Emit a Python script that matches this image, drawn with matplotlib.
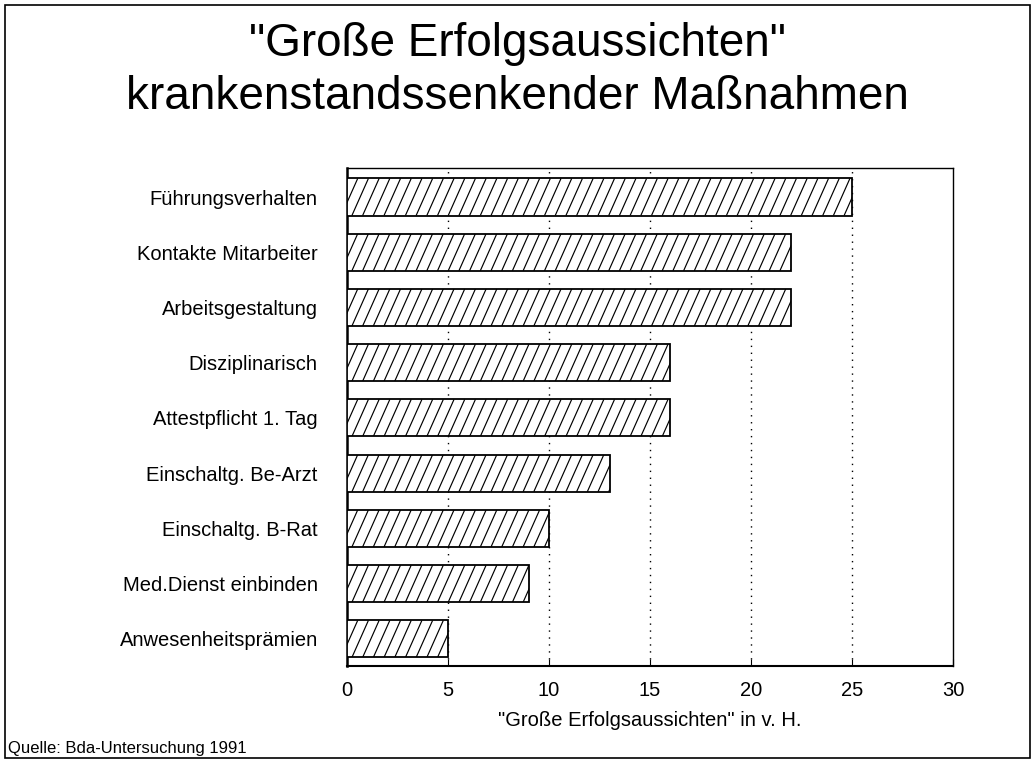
import numpy as np
import matplotlib
matplotlib.use("Agg")
import matplotlib.pyplot as plt
from matplotlib.collections import LineCollection
from matplotlib.patches import Rectangle

plt.rcParams['font.family'] = ['Liberation Sans', 'DejaVu Sans']

# Daten
kategorien = ["Führungsverhalten", "Kontakte Mitarbeiter", "Arbeitsgestaltung",
              "Disziplinarisch", "Attestpflicht 1. Tag", "Einschaltg. Be-Arzt",
              "Einschaltg. B-Rat", "Med.Dienst einbinden", "Anwesenheitsprämien"]
werte = [25, 22, 22, 16, 16, 13, 10, 9, 5]
x_ticks = [0, 5, 10, 15, 20, 25, 30]

titel_1 = "\"Große Erfolgsaussichten\""
titel_2 = "krankenstandssenkender Maßnahmen"
x_label = "\"Große Erfolgsaussichten\" in v. H."
quelle = "Quelle: Bda-Untersuchung 1991"

W, H = 1035, 767
ax_l, ax_r, ax_t, ax_b = 347, 953, 168, 666
fig = plt.figure(figsize=(W / 100, H / 100), dpi=100)
ax = fig.add_axes([ax_l / W, 1 - ax_b / H, (ax_r - ax_l) / W, (ax_b - ax_t) / H])

y = np.arange(len(kategorien))
bar_h = 0.67
bars = ax.barh(y, werte, height=bar_h, color='white', edgecolor='black', linewidth=1.3, zorder=3)

y_unten = len(kategorien) - 1 + 0.49
y_oben = -0.525
ax.set_xlim(0, 30)
ax.set_ylim(y_unten, y_oben)
ax.set_xticks(x_ticks)
ax.set_yticks(y)
ax.set_yticklabels(kategorien, fontsize=14.5)
ax.tick_params(axis='x', direction='in', length=5, labelsize=14.5, pad=11)
ax.tick_params(axis='y', direction='in', length=5, pad=21)
ax.set_xlabel(x_label, fontsize=14.5, labelpad=8)

# gepunktete Hilfslinien
for xv in x_ticks[1:-1]:
    ax.axvline(xv, color='black', linestyle=(0, (1, 4)), linewidth=1, zorder=1)

for side in ['top', 'right']:
    ax.spines[side].set_linewidth(1.0)
ax.spines['left'].set_linewidth(1.8)
ax.spines['bottom'].set_linewidth(1.5)

# Schraffur (steiler als 45 Grad), auf die Balken beschnitten
px_x = (ax_r - ax_l) / 30.0
px_y = (ax_b - ax_t) / (y_unten - y_oben)
steig = 1 / np.tan(np.radians(66))
abstand = 10.7 / px_x
dx = bar_h * px_y * steig / px_x
for i, b in enumerate(bars):
    segs = []
    for xs in np.arange(-dx, werte[i] + abstand, abstand):
        segs.append([(xs, i + bar_h / 2), (xs + dx, i - bar_h / 2)])
    lc = LineCollection(segs, colors='black', linewidths=0.85, zorder=4)
    ax.add_collection(lc, autolim=False)
    lc.set_clip_path(b)

fig.text(0.5, 1 - 56 / H, titel_1, ha='center', va='baseline', fontsize=33)
fig.text(0.5, 1 - 109 / H, titel_2, ha='center', va='baseline', fontsize=33)
fig.text(8 / W, 1 - 748 / H, quelle, ha='left', va='center', fontsize=12)

fig.patches.append(Rectangle((5 / W, 1 - 758 / H), 1025 / W, 753 / H, transform=fig.transFigure,
                             fill=False, edgecolor='black', linewidth=1.2))

fig.savefig("out.png", dpi=100)
